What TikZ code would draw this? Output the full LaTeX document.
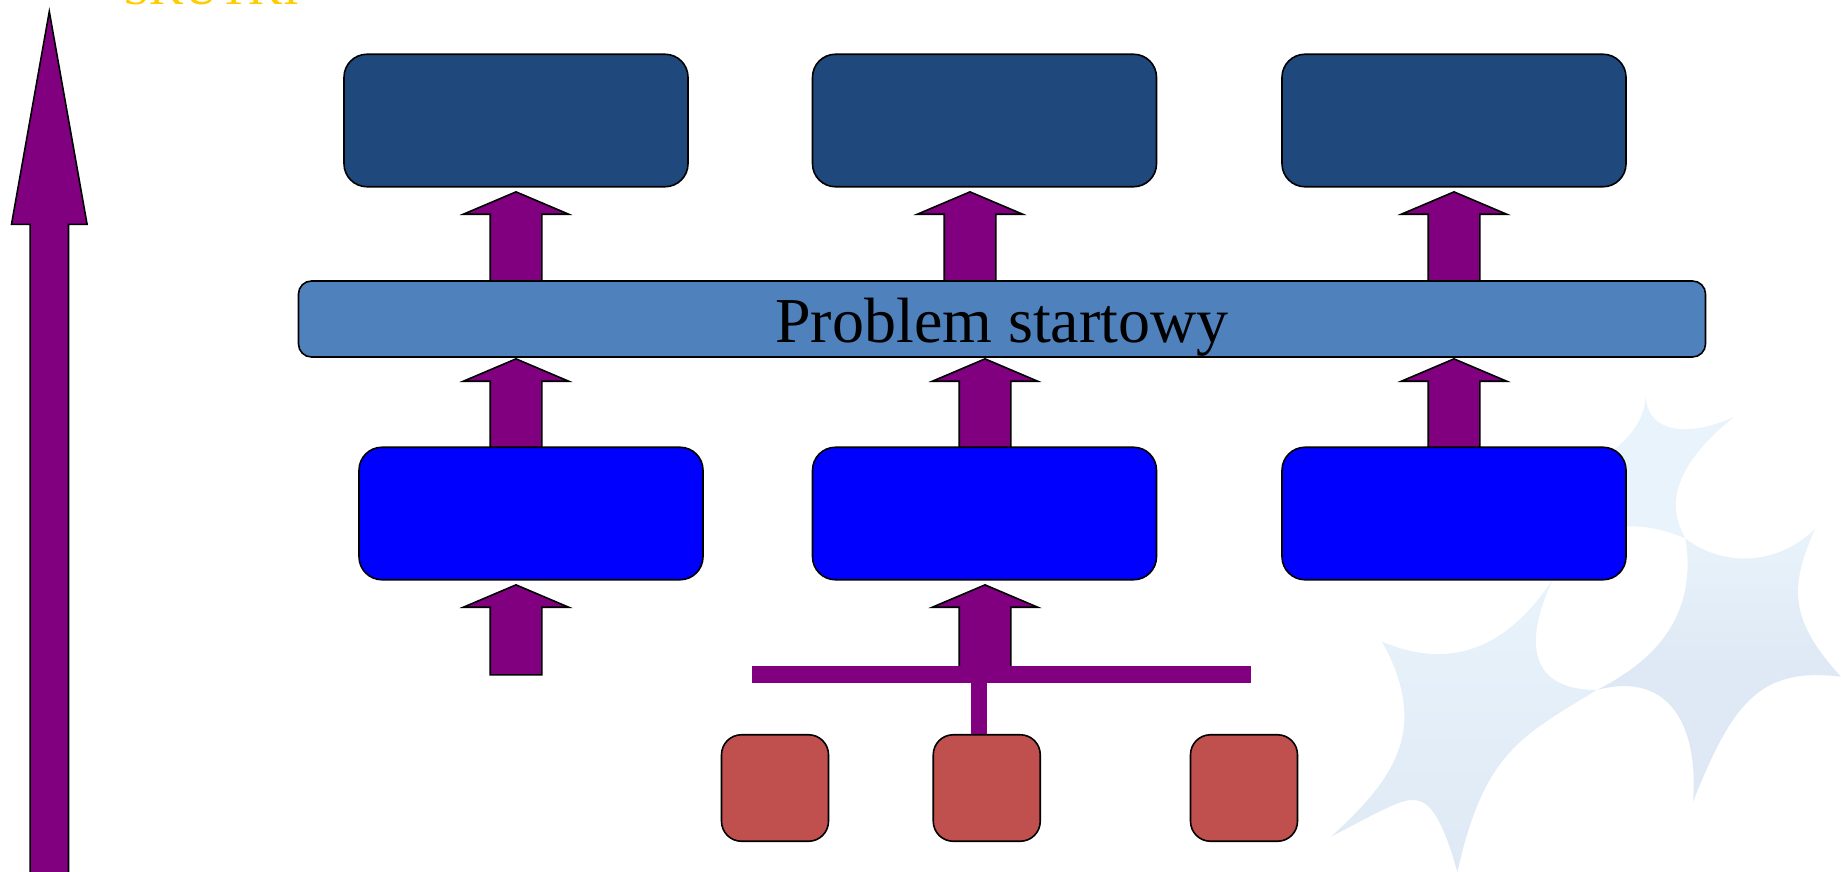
\documentclass[tikz,border=0pt]{standalone}
\usepackage{fontspec}
\setmainfont{Liberation Serif}
\usetikzlibrary{shapes.arrows}
\definecolor{goalblue}{HTML}{1F497D}
\definecolor{bandblue}{HTML}{4F81BD}
\definecolor{stepblue}{HTML}{0000FF}
\definecolor{srcred}{HTML}{C0504D}
\definecolor{liftpurple}{HTML}{800080}
\definecolor{titlegold}{HTML}{FFCC00}
\definecolor{logoa}{HTML}{E8F3FB}
\definecolor{logob}{HTML}{DEE9F5}
\tikzset{
  box/.style={draw=black,line width=1.6pt,inner sep=0pt},
  goalbox/.style={box,fill=goalblue,rounded corners=23pt,minimum width=344pt,minimum height=132.5pt},
  stepbox/.style={box,fill=stepblue,rounded corners=23pt,minimum width=344pt,minimum height=132.5pt},
  srcbox/.style={box,fill=srcred,rounded corners=20pt,minimum width=107pt,minimum height=106.5pt},
  lift/.style={single arrow,draw=black,line width=1.6pt,fill=liftpurple,inner sep=25pt,
    shape border rotate=90,anchor=tip,single arrow head indent=0pt,
    minimum width=104pt,single arrow head extend=27pt,single arrow tip angle=134},
}
\begin{document}
\begin{tikzpicture}[x=1pt,y=-1pt]
\useasboundingbox (0,0) rectangle (1841,872);
% logo
\fill[logoa] (1645.8,395) .. controls (1645.8,430) and (1683.5,440) .. (1734.4,416.7)
  .. controls (1676,463.3) and (1664.7,503.3) .. (1685.4,538.3)
  .. controls (1664.7,530) and (1645.8,525) .. (1623,526.7) -- (1600,500) -- (1600,460)
  .. controls (1630,440) and (1645,420) .. (1645.8,395);
\shade[top color=logoa,bottom color=logob,middle color=logob] (1685.4,538.3) .. controls (1721.2,566.7) and (1777.7,566.7) .. (1815.4,528.3)
  .. controls (1789,586.7) and (1789,620) .. (1841,676.7)
  .. controls (1759,666.7) and (1732.5,703.3) .. (1693,801.7)
  .. controls (1698.6,730) and (1672.2,670) .. (1596.8,690)
  .. controls (1649.6,663.3) and (1698.6,620) .. (1685.4,538.3);
\shade[top color=logoa,bottom color=logob] (1382,641.7) .. controls (1449.8,670) and (1506.3,650) .. (1553.5,578.3)
  .. controls (1525.2,636.7) and (1525.2,690) .. (1596.8,690)
  .. controls (1520,736.7) and (1484,753.3) .. (1457.3,872)
  .. controls (1438.5,803.3) and (1423.4,800) .. (1412,800)
  .. controls (1400,800) and (1382,810) .. (1331,836.7)
  .. controls (1393,780) and (1431,730) .. (1382,641.7);
\node[anchor=base west,inner sep=0pt,text=titlegold,font=\fontsize{48}{48}\selectfont] (skutki) at (123,5) {SKUTKI};
% long arrow on the left
\node[lift,inner sep=18.4pt,minimum height=865pt,minimum width=74pt,single arrow head extend=18.6pt,single arrow tip angle=20.15] (axis) at (49.3,7) {};
% arrows between the rows
\foreach \n/\x/\ytip/\len in {a/516/191/90,b/970/191/90,c/1454/191/90,
  d/516/358/89,e/985/358/89,f/1454/358/89,g/516/584/90,h/985/584/85}
  \node[lift,minimum height=\len pt] (lift\n) at (\x,\ytip) {};
\foreach \n/\x in {1/516,2/984.5,3/1454}
  \node[goalbox] (goal\n) at (\x,120.5) {};
\foreach \n/\x in {1/531,2/984.5,3/1454}
  \node[stepbox] (part\n) at (\x,513.5) {};
\foreach \n/\x in {1/775,2/986.75,3/1244}
  \node[srcbox] (src\n) at (\x,788) {};
\node[box,fill=bandblue,rounded corners=13pt,minimum width=1407pt,minimum height=76pt,
  text height=50pt,text depth=2.6pt,font=\fontsize{64}{64}\selectfont] (band) at (1002,319) {Problem startowy};
\node[fill=liftpurple,inner sep=0pt,minimum width=499.5pt,minimum height=16.4pt] (bar) at (1001.7,674.5) {};
\coordinate (stemtop) at (979,682);
\draw[liftpurple,line width=15.6pt] (stemtop) -- (stemtop |- src2.north);
\end{tikzpicture}
\end{document}
